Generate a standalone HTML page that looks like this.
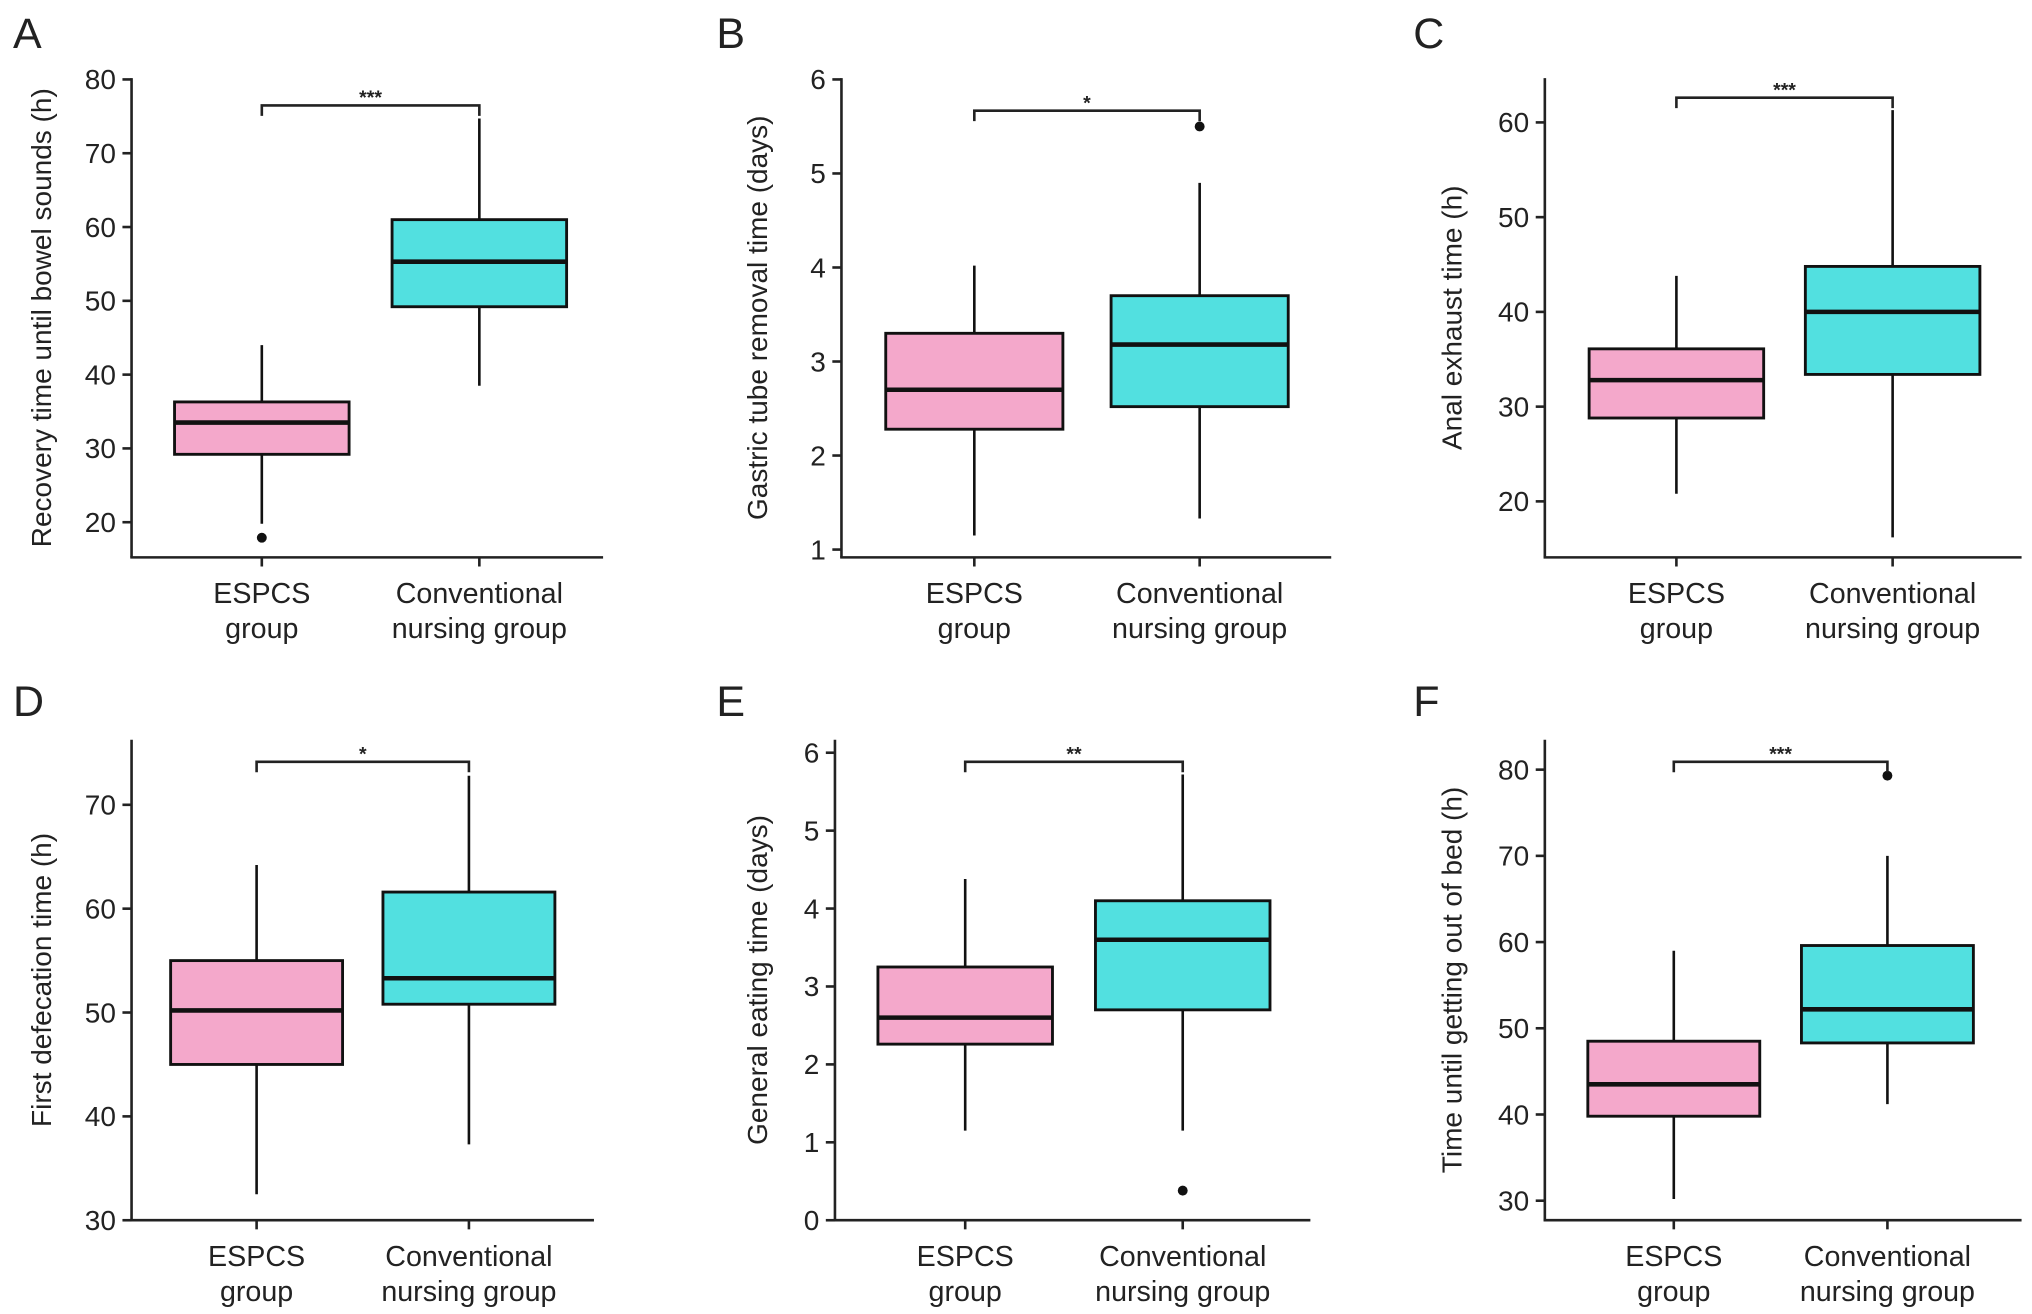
<!DOCTYPE html>
<html><head><meta charset="utf-8"><style>
html,body{margin:0;padding:0;background:#fff;}
svg{display:block;}
text{font-family:"Liberation Sans",Arial,sans-serif;fill:#222;}
</style></head><body>
<svg id="fig" width="2032" height="1314" viewBox="0 0 1560 1009" preserveAspectRatio="none" xmlns="http://www.w3.org/2000/svg"></svg>
<script>
const categories = ["ESPCS|group", "Conventional|nursing group"];
const aQ1=[29.2,49.2], aMed=[33.5,55.3], aQ3=[36.3,61.0], aLo=[19.8,38.5], aHi=[44.0,74.7], aOut=[[17.9],[]];
const bQ1=[2.28,2.52], bMed=[2.70,3.18], bQ3=[3.30,3.70], bLo=[1.15,1.33], bHi=[4.02,4.90], bOut=[[],[5.5]];
const cQ1=[28.8,33.4], cMed=[32.8,40.0], cQ3=[36.1,44.8], cLo=[20.8,16.2], cHi=[43.8,61.3], cOut=[[],[]];
const dQ1=[45.0,50.8], dMed=[50.2,53.3], dQ3=[55.0,61.6], dLo=[32.5,37.3], dHi=[64.2,72.8], dOut=[[],[]];
const eQ1=[2.26,2.70], eMed=[2.60,3.60], eQ3=[3.25,4.10], eLo=[1.15,1.15], eHi=[4.38,5.72], eOut=[[],[0.38]];
const fQ1=[39.8,48.3], fMed=[43.5,52.2], fQ3=[48.5,59.6], fLo=[30.2,41.2], fHi=[59.0,70.0], fOut=[[],[79.3]];
const aTicks=[20,30,40,50,60,70,80], bTicks=[1,2,3,4,5,6], cTicks=[20,30,40,50,60], dTicks=[30,40,50,60,70], eTicks=[0,1,2,3,4,5,6], fTicks=[30,40,50,60,70,80];
const sigLabels=["***","*","***","*","**","***"];
const yTitles=["Recovery time until bowel sounds (h)","Gastric tube removal time (days)","Anal exhaust time (h)","First defecation time (h)","General eating time (days)","Time until getting out of bed (h)"];

const NS="http://www.w3.org/2000/svg";
const svg=document.getElementById('fig');
function mk(tag,attrs,parent){const e=document.createElementNS(NS,tag);for(const k in attrs)e.setAttribute(k,attrs[k]);(parent||svg).appendChild(e);return e;}

const layouts=[
 {L:'A',ax:101,ay0:428,axR:463,top:60,v0:20,p0:401,v1:80,p1:61,cx:[201,368],hw:[67,67],br:81,lx:10,tx:32},
 {L:'B',ax:646,ay0:428,axR:1022,top:60,v0:1,p0:422,v1:6,p1:61,cx:[748,921],hw:[68,68],br:85,lx:550,tx:582},
 {L:'C',ax:1186,ay0:428,axR:1552,top:60,v0:20,p0:385,v1:60,p1:94,cx:[1287,1453],hw:[67,67],br:75,lx:1085,tx:1115},
 {L:'D',ax:101,ay0:937,axR:456,top:568,v0:30,p0:937,v1:70,p1:618,cx:[197,360],hw:[66,66],br:585,lx:10,tx:32},
 {L:'E',ax:641,ay0:937,axR:1006,top:568,v0:0,p0:937,v1:6,p1:578,cx:[741,908],hw:[67,67],br:585,lx:550,tx:582},
 {L:'F',ax:1186,ay0:937,axR:1552,top:568,v0:30,p0:922,v1:80,p1:591,cx:[1285,1449],hw:[66,66],br:585,lx:1085,tx:1115}
];
const data=[[aQ1,aMed,aQ3,aLo,aHi,aOut,aTicks],[bQ1,bMed,bQ3,bLo,bHi,bOut,bTicks],[cQ1,cMed,cQ3,cLo,cHi,cOut,cTicks],[dQ1,dMed,dQ3,dLo,dHi,dOut,dTicks],[eQ1,eMed,eQ3,eLo,eHi,eOut,eTicks],[fQ1,fMed,fQ3,fLo,fHi,fOut,fTicks]];
const fills=["#f4a8cb","#52e0e0"];

layouts.forEach((P,pi)=>{
  const [q1,med,q3,lo,hi,out,ticks]=data[pi];
  const y=v=>P.p0+(v-P.v0)*(P.p1-P.p0)/(P.v1-P.v0);
  const g=mk('g',{});
  
  
  const lt=mk('text',{x:P.lx,y:P.ay0<500?37:550,'font-size':33},g);lt.textContent=P.L;
  
  const ya=mk('line',{x1:P.ax,y1:P.top,x2:P.ax,y2:P.ay0,stroke:'#222','stroke-width':2},g);
  
  const xa=mk('line',{x1:P.ax-1,y1:P.ay0,x2:P.axR,y2:P.ay0,stroke:'#222','stroke-width':2},g);
  
  ticks.forEach(t=>{
    mk('line',{x1:P.ax-7,y1:y(t),x2:P.ax,y2:y(t),stroke:'#222','stroke-width':2},g);
    const tl=mk('text',{x:P.ax-12,y:y(t)+7.5,'font-size':21.5,'text-anchor':'end'},g);tl.textContent=t;
    
  });
  const yc=(P.top+P.ay0)/2;
  const yt=mk('text',{x:P.tx,y:yc,'font-size':21.5,'text-anchor':'middle',transform:`rotate(-90 ${P.tx} ${yc})`,dy:7},g);
  yt.textContent=yTitles[pi];
  
  categories.forEach((c,i)=>{
    const cx=P.cx[i];
    mk('line',{x1:cx,y1:P.ay0,x2:cx,y2:P.ay0+7,stroke:'#222','stroke-width':2},g);
    const parts=c.split('|');
    parts.forEach((s,k)=>{
      const t=mk('text',{x:cx,y:P.ay0+35+k*27,'font-size':22,'text-anchor':'middle'},g);t.textContent=s;
      
    });
    const w=mk('line',{x1:cx,y1:y(lo[i]),x2:cx,y2:y(hi[i]),stroke:'#111','stroke-width':2},g);
    
    const b=mk('rect',{x:cx-P.hw[i],y:y(q3[i]),width:2*P.hw[i],height:y(q1[i])-y(q3[i]),fill:fills[i],stroke:'#111','stroke-width':2.2},g);
    
    const m=mk('line',{x1:cx-P.hw[i],y1:y(med[i]),x2:cx+P.hw[i],y2:y(med[i]),stroke:'#111','stroke-width':3.5},g);
    
    out[i].forEach(v=>{
      const o=mk('circle',{cx:cx,cy:y(v),r:3.8,fill:'#111'},g);
      
    });
  });
  const br=mk('path',{d:`M${P.cx[0]},${P.br+8}V${P.br}H${P.cx[1]}V${P.br+8}`,fill:'none',stroke:'#222','stroke-width':2},g);
  
  const st=mk('text',{x:(P.cx[0]+P.cx[1])/2,y:P.br-1,'font-size':15,'text-anchor':'middle','font-weight':'bold'},g);
  st.textContent=sigLabels[pi];
  
});
</script>
</body></html>
